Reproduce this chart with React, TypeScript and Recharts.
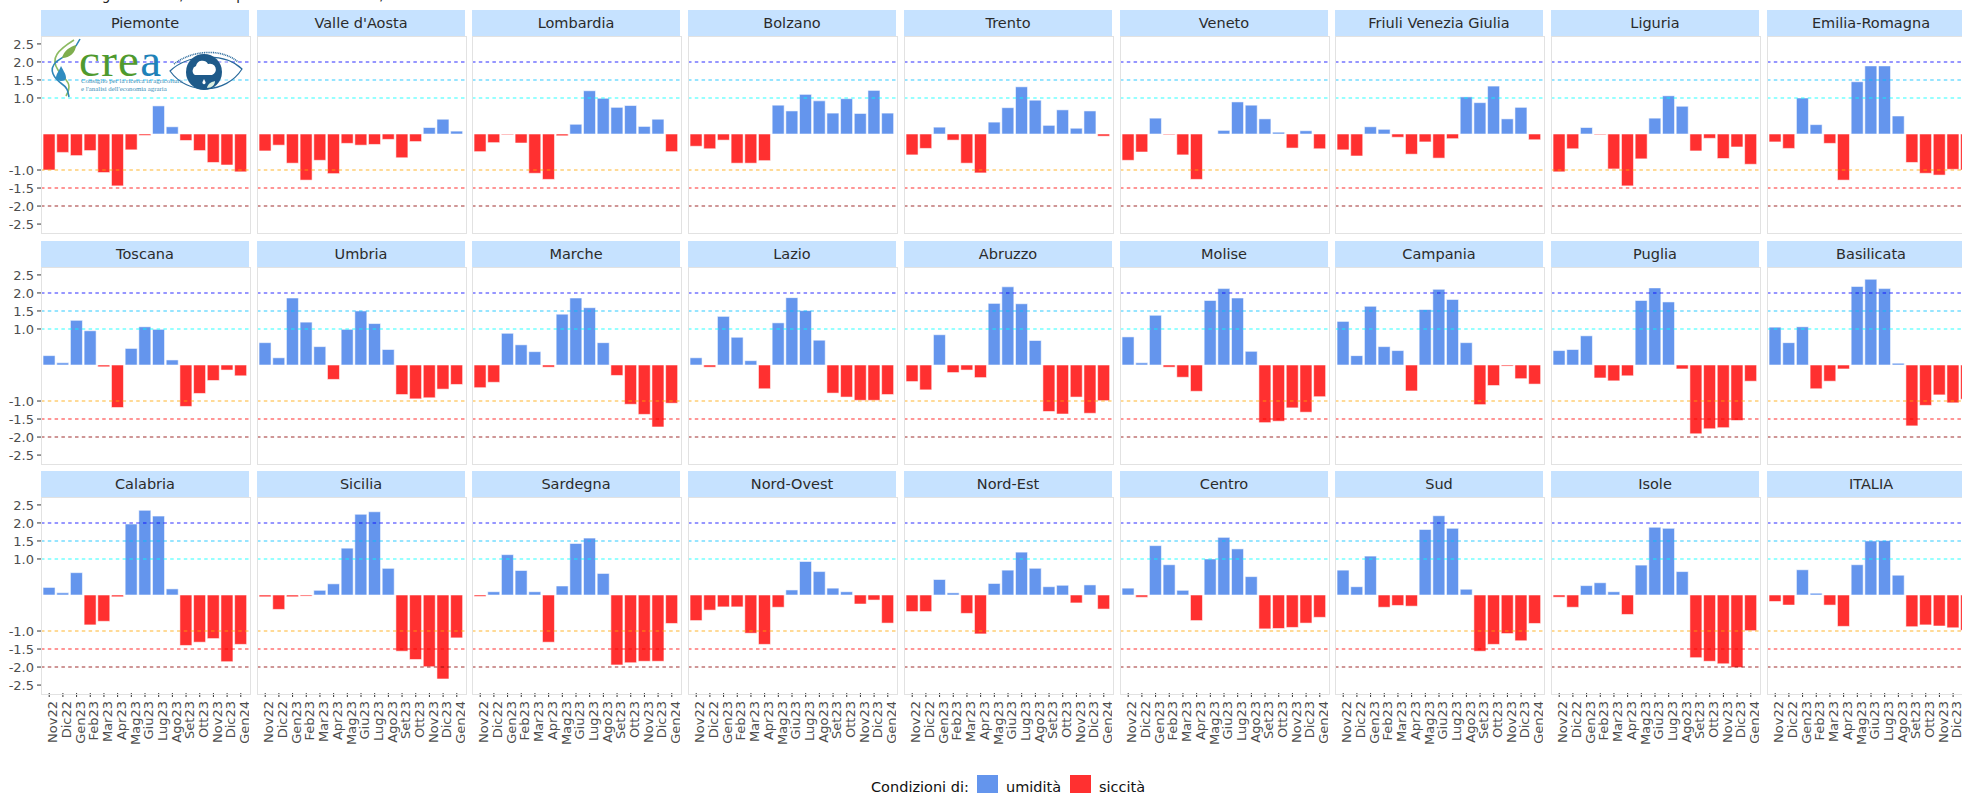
import React from "react";
import { BarChart, Bar, Cell, XAxis, YAxis, ReferenceLine } from "recharts";

const months = ["Nov22","Dic22","Gen23","Feb23","Mar23","Apr23","Mag23","Giu23","Lug23","Ago23","Set23","Ott23","Nov23","Dic23","Gen24"];
const yTicks = [-2.5,-2,-1.5,-1,1,1.5,2,2.5];
const thresholds = [
  { y: 2, color: "#0000ff" },
  { y: 1.5, color: "#00bfff" },
  { y: 1, color: "#00ffff" },
  { y: -1, color: "#ffa500" },
  { y: -1.5, color: "#ff0000" },
  { y: -2, color: "#8b0000" },
];

const piemonte = [-1.0,-0.51,-0.6,-0.46,-1.07,-1.44,-0.44,-0.04,0.78,0.2,-0.18,-0.46,-0.79,-0.86,-1.05];
const valleDAosta = [-0.47,-0.31,-0.81,-1.28,-0.73,-1.1,-0.26,-0.31,-0.29,-0.15,-0.66,-0.21,0.18,0.41,0.08];
const lombardia = [-0.49,-0.24,-0.02,-0.25,-1.09,-1.26,-0.05,0.27,1.2,0.99,0.74,0.79,0.21,0.41,-0.49];
const bolzano = [-0.34,-0.41,-0.17,-0.81,-0.81,-0.74,0.8,0.64,1.1,0.92,0.58,0.98,0.57,1.21,0.58];
const trento = [-0.58,-0.4,0.19,-0.17,-0.81,-1.08,0.33,0.73,1.31,0.94,0.24,0.67,0.16,0.64,-0.06];
const veneto = [-0.73,-0.5,0.44,-0.02,-0.58,-1.26,0,0.1,0.89,0.8,0.42,0.05,-0.39,0.09,-0.41];
const friuli = [-0.44,-0.61,0.2,0.13,-0.09,-0.56,-0.22,-0.67,-0.13,1.03,0.87,1.33,0.42,0.74,-0.16];
const liguria = [-1.05,-0.41,0.18,-0.02,-0.97,-1.44,-0.69,0.44,1.06,0.77,-0.47,-0.12,-0.68,-0.36,-0.84];
const emilia = [-0.22,-0.4,1.0,0.26,-0.26,-1.28,1.45,1.89,1.89,0.5,-0.79,-1.09,-1.14,-0.98,-1.0];
const toscana = [0.26,0.06,1.24,0.95,-0.05,-1.18,0.46,1.06,0.99,0.14,-1.15,-0.79,-0.43,-0.14,-0.3];
const umbria = [0.62,0.2,1.86,1.19,0.51,-0.4,0.99,1.5,1.15,0.43,-0.82,-0.94,-0.91,-0.67,-0.54];
const marche = [-0.63,-0.48,0.88,0.56,0.37,-0.06,1.41,1.86,1.59,0.62,-0.29,-1.09,-1.37,-1.72,-1.06];
const lazio = [0.2,-0.06,1.35,0.77,0.12,-0.66,1.17,1.87,1.51,0.69,-0.78,-0.89,-0.98,-0.98,-0.82];
const abruzzo = [-0.46,-0.69,0.84,-0.21,-0.14,-0.35,1.71,2.17,1.7,0.68,-1.29,-1.36,-0.89,-1.34,-0.99];
const molise = [0.78,0.06,1.38,-0.06,-0.34,-0.73,1.79,2.12,1.86,0.38,-1.6,-1.56,-1.19,-1.31,-0.88];
const campania = [1.21,0.26,1.63,0.51,0.4,-0.72,1.54,2.1,1.82,0.62,-1.1,-0.57,-0.03,-0.38,-0.53];
const puglia = [0.4,0.43,0.81,-0.36,-0.44,-0.3,1.79,2.14,1.75,-0.11,-1.91,-1.77,-1.74,-1.54,-0.45];
const basilicata = [1.05,0.62,1.06,-0.66,-0.45,-0.11,2.18,2.38,2.12,0.05,-1.69,-1.12,-0.83,-1.05,-0.95];
const calabria = [0.21,0.06,0.62,-0.83,-0.73,-0.05,1.97,2.35,2.19,0.17,-1.4,-1.31,-1.21,-1.85,-1.37];
const sicilia = [-0.05,-0.4,-0.05,-0.03,0.13,0.31,1.3,2.24,2.31,0.74,-1.56,-1.79,-1.99,-2.33,-1.19];
const sardegna = [-0.04,0.09,1.12,0.68,0.09,-1.31,0.25,1.43,1.58,0.6,-1.94,-1.88,-1.84,-1.84,-0.79];
const nordOvest = [-0.71,-0.42,-0.33,-0.33,-1.06,-1.37,-0.34,0.14,0.93,0.65,0.19,0.09,-0.25,-0.14,-0.78];
const nordEst = [-0.46,-0.46,0.43,0.06,-0.51,-1.08,0.32,0.69,1.19,0.74,0.23,0.27,-0.22,0.28,-0.39];
const centro = [0.19,-0.06,1.37,0.84,0.13,-0.71,1.0,1.6,1.28,0.51,-0.94,-0.93,-0.9,-0.78,-0.62];
const sud = [0.69,0.23,1.08,-0.34,-0.29,-0.31,1.82,2.2,1.85,0.16,-1.56,-1.37,-1.07,-1.27,-0.79];
const isole = [-0.06,-0.34,0.26,0.34,0.09,-0.54,0.83,1.88,1.85,0.65,-1.74,-1.84,-1.91,-2.01,-0.99];
const italia = [-0.18,-0.28,0.7,0.05,-0.28,-0.87,0.84,1.5,1.51,0.55,-0.88,-0.83,-0.86,-0.91,-0.98];

const panels: [string, number[]][] = [
  ["Piemonte", piemonte], ["Valle d'Aosta", valleDAosta], ["Lombardia", lombardia],
  ["Bolzano", bolzano], ["Trento", trento], ["Veneto", veneto],
  ["Friuli Venezia Giulia", friuli], ["Liguria", liguria], ["Emilia-Romagna", emilia],
  ["Toscana", toscana], ["Umbria", umbria], ["Marche", marche],
  ["Lazio", lazio], ["Abruzzo", abruzzo], ["Molise", molise],
  ["Campania", campania], ["Puglia", puglia], ["Basilicata", basilicata],
  ["Calabria", calabria], ["Sicilia", sicilia], ["Sardegna", sardegna],
  ["Nord-Ovest", nordOvest], ["Nord-Est", nordEst], ["Centro", centro],
  ["Sud", sud], ["Isole", isole], ["ITALIA", italia],
];

const FONT = "'DejaVu Sans', sans-serif";
const BLUE = "#6495ED";
const RED = "#FF3030";
const PW = 208;
const PH = 196;
const COL_X = [41, 257, 472, 688, 904, 1120, 1335, 1551, 1767];
const ROW_Y = [36, 267, 497];
const YGUT = 41;
const XGUT = 52;

function Panel({ name, values, col, row }: { name: string; values: number[]; col: number; row: number }) {
  const left = col === 0 ? YGUT : 0;
  const bottom = row === 2 ? XGUT : 0;
  const data = months.map((m, i) => ({ m, v: values[i] }));
  return (
    <>
      <div style={{ position: "absolute", left: COL_X[col], top: ROW_Y[row] - 26, width: PW, height: 26, background: "#C6E2FF", color: "#2b2b2b", font: `14.5px ${FONT}`, lineHeight: "26px", textAlign: "center" }}>{name}</div>
      <div style={{ position: "absolute", left: COL_X[col] - left, top: ROW_Y[row] }}>
        <BarChart width={PW + left} height={PH + bottom} data={data} margin={{ top: 0, right: 0, bottom: 0, left: 0 }} barCategoryGap="5%">
          <XAxis
            dataKey="m"
            hide={row !== 2}
            height={XGUT}
            interval={0}
            padding={{ left: 1.37, right: 1.37 }}
            axisLine={false}
            tickSize={4}
            tickMargin={4}
            tickLine={{ stroke: "#333333" }}
            tick={{ angle: -90, textAnchor: "end", dx: -1, fontSize: 13, fill: "#4d4d4d", fontFamily: FONT }}
          />
          <YAxis
            hide={col !== 0}
            width={YGUT}
            type="number"
            domain={[-2.72, 2.72]}
            allowDataOverflow
            ticks={yTicks}
            interval={0}
            axisLine={false}
            tickSize={4}
            tickMargin={3}
            tickLine={{ stroke: "#333333" }}
            tickFormatter={(v: number) => v.toFixed(1)}
            tick={{ fontSize: 13, fill: "#4d4d4d", fontFamily: FONT }}
          />
          <Bar dataKey="v" isAnimationActive={false} stroke="#ffffff" strokeOpacity={0.55} strokeWidth={1}>
            {data.map((d) => (
              <Cell key={d.m} fill={d.v >= 0 ? BLUE : RED} />
            ))}
          </Bar>
          {thresholds.map((t) => (
            <ReferenceLine key={t.y} y={t.y} stroke={t.color} strokeOpacity={0.55} strokeWidth={1.4} strokeDasharray="3.5 3.3" />
          ))}
        </BarChart>
      </div>
      <div style={{ position: "absolute", left: COL_X[col] - 0.5, top: ROW_Y[row] - 0.5, width: PW, height: PH, border: "1px solid #e2e2e2", pointerEvents: "none" }} />
    </>
  );
}

function Logo() {
  return (
    <svg width={210} height={70} viewBox="0 0 210 70" style={{ position: "absolute", left: 46, top: 36 }}>
      <path d="M28 4 C 12 14, 4 22, 12 34 C 18 44, 28 46, 20 60" fill="none" stroke="#8dbb63" strokeWidth={1.6} />
      <path d="M34 3 C 28 16, 18 20, 10 26 C 2 34, 8 42, 16 48 C 22 52, 22 56, 23 61" fill="none" stroke="#2f86b8" strokeWidth={1.6} />
      <path d="M16 22 C 18 14, 24 11, 30 9 C 30 16, 24 22, 16 22 Z" fill="#7fae4e" />
      <path d="M15 30 C 18 36, 20 38, 20 42 C 20 46, 10 46, 10 42 C 10 38, 13 35, 15 30 Z" fill="#2f8cc0" />
      <text x={33} y={40} fontFamily="'Liberation Serif', serif" fontSize={47} letterSpacing={1.3} fill="#4f9a2e">cre<tspan fill="#1f82b8">a</tspan></text>
      <text x={35} y={47} fontFamily="'Liberation Serif', serif" fontSize={6.8} fill="#3a8fb8">Consiglio per la ricerca in agricoltura</text>
      <text x={35} y={55} fontFamily="'Liberation Serif', serif" fontSize={6.8} fill="#3a8fb8">e l'analisi dell'economia agraria</text>
      <path d="M124 35 C 142 18, 178 16, 196 33 C 180 58, 142 60, 124 35 Z" fill="#ffffff" fillOpacity={0.3} stroke="#2a6a9c" strokeWidth={1.2} />
      <path d="M128 28 C 146 14, 176 12, 192 26" fill="none" stroke="#2a6a9c" strokeWidth={1.6} strokeDasharray="1 0.8" />
      <circle cx={158} cy={36} r={18} fill="#1e5a8a" />
      <path d="M149 39 a5 5 0 0 1 1 -9 a6.5 6.5 0 0 1 12 -2 a5.5 5.5 0 0 1 4 11 Z" fill="#ffffff" />
      <path d="M158 43 l1.5 3 a1.6 1.6 0 1 1 -3 0 Z" fill="#ffffff" />
      <path d="M161 52 C 162 47, 166 46, 169 45 C 169 49, 166 52, 161 52 Z" fill="#dcefe0" />
    </svg>
  );
}

export default function App() {
  return (
    <div style={{ position: "absolute", left: 0, top: 0, width: 1962, height: 793, overflow: "hidden", background: "#ffffff", fontFamily: FONT }}>
      <div style={{ position: "absolute", left: 41, top: -13, font: `13.5px ${FONT}`, lineHeight: "16px", color: "#222", whiteSpace: "nowrap" }}>
        Annata agraria 2022/2023 e primo trimestre 2023/2024
      </div>
      {panels.map(([name, values], i) => (
        <Panel key={name} name={name} values={values} col={i % 9} row={Math.floor(i / 9)} />
      ))}
      <Logo />
      <div style={{ position: "absolute", left: 871, top: 778, font: `14.5px ${FONT}`, lineHeight: "18px", color: "#111", whiteSpace: "nowrap" }}>Condizioni di:</div>
      <div style={{ position: "absolute", left: 977, top: 775, width: 21, height: 21, background: BLUE }} />
      <div style={{ position: "absolute", left: 1006, top: 778, font: `14.5px ${FONT}`, lineHeight: "18px", color: "#111", whiteSpace: "nowrap" }}>umidità</div>
      <div style={{ position: "absolute", left: 1070, top: 775, width: 21, height: 21, background: RED }} />
      <div style={{ position: "absolute", left: 1099, top: 778, font: `14.5px ${FONT}`, lineHeight: "18px", color: "#111", whiteSpace: "nowrap" }}>siccità</div>
    </div>
  );
}
